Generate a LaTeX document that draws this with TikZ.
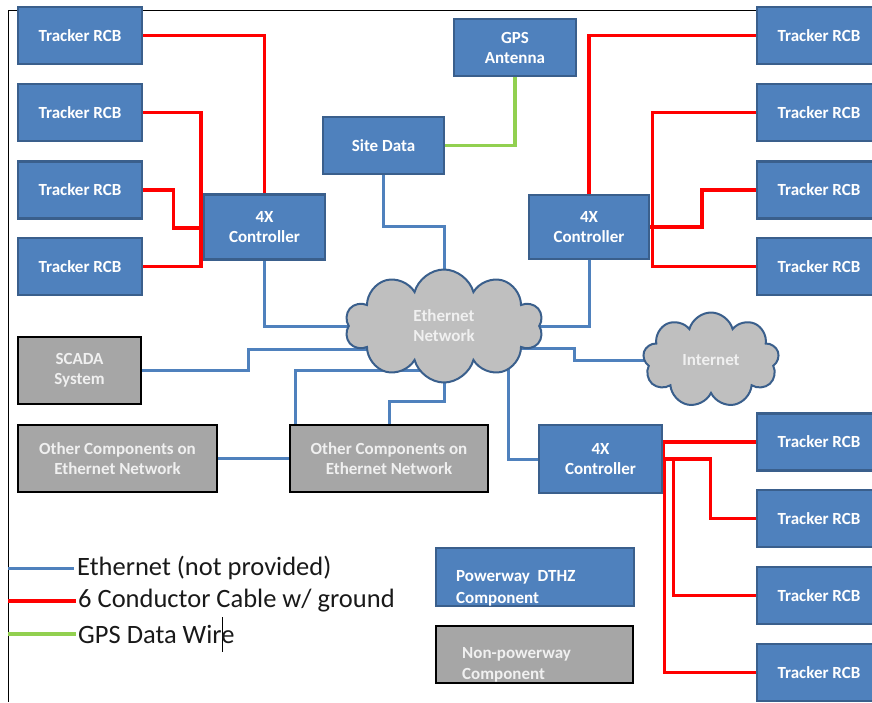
\documentclass[tikz,border=0pt]{standalone}
\usepackage{fontspec}
\setmainfont{Carlito}
\usepackage{tikz}
\usetikzlibrary{
	positioning, calc, shapes.symbols, backgrounds
}
\definecolor{pwblue}{RGB}{79,129,189}
\definecolor{pwedge}{RGB}{58,95,140}
\definecolor{npgray}{RGB}{166,166,166}
\definecolor{cloudgray}{RGB}{191,191,191}
\definecolor{gpsgreen}{RGB}{146,208,80}
\tikzstyle{rcb} = [rectangle, draw=pwedge, fill=pwblue, line width=2.5pt, text=white, font=\fontsize{17}{20}\selectfont\bfseries, minimum width=124pt, minimum height=57pt, inner sep=0pt, align=center]
\tikzstyle{ctrl} = [rcb, minimum width=121pt, minimum height=65pt]
\tikzstyle{other} = [rectangle, draw=black, fill=npgray, line width=2.5pt, text=white!94!black, font=\fontsize{17}{20}\selectfont\bfseries, minimum height=67pt, inner sep=0pt, align=center]
\tikzstyle{net} = [cloud, cloud puffs=10, cloud ignores aspect, draw=pwedge, fill=cloudgray, line width=2pt, text=white!94!black, font=\fontsize{17}{20}\selectfont\bfseries, align=center]
\tikzstyle{legend} = [font=\fontsize{26.5}{30}\selectfont, text=black!90, inner sep=0pt]
\tikzstyle{cable} = [draw, red, line width=3.5pt]
\tikzstyle{ethline} = [draw, pwblue, line width=3pt]
\tikzstyle{gpsline} = [draw, gpsgreen, line width=3.5pt]

\begin{document}
\begin{tikzpicture}[x=1pt, y=-1pt]
    \useasboundingbox (0,0) rectangle (872,702);
    %%% Trackers, left:
    \node[rcb] (tl1) at (80,35.5) {Tracker RCB};
    \node[rcb] (tl2) at (80,112.5) {Tracker RCB};
    \node[rcb] (tl3) at (80,190) {Tracker RCB};
    \node[rcb] (tl4) at (80,266.5) {Tracker RCB};
    \node[ctrl] (c1) at (264.5,227) {4X\\Controller};
    %%% Trackers, right:
    \begin{scope}[xshift = 739pt]
      \node[rcb] (tr1) at (80,35.5) {Tracker RCB};
      \node[rcb] (tr2) at (80,112.5) {Tracker RCB};
      \node[rcb] (tr3) at (80,190) {Tracker RCB};
      \node[rcb] (tr4) at (80,266.5) {Tracker RCB};
      \node[rcb] (tb1) at (80,442) {Tracker RCB};
      \node[rcb] (tb2) at (80,518.5) {Tracker RCB};
      \node[rcb] (tb3) at (80,595.5) {Tracker RCB};
      \node[rcb] (tb4) at (80,672.5) {Tracker RCB};
    \end{scope}
    \node[ctrl, minimum width=120pt, minimum height=64pt] (c2) at (589,227) {4X\\Controller};
    \node[ctrl, minimum width=123pt, minimum height=68pt] (c3) at (600.5,459) {4X\\Controller};
    %%% Site data and GPS:
    \node[rcb, minimum width=121pt] (site) at (383.5,145.5) {Site Data};
    \node[rcb, minimum width=122pt] (gps) at (515,47.5) {GPS\\Antenna};
    %%% Network:
    \node[net, minimum width=198pt, minimum height=113pt] (eth) at (444,326) {Ethernet\\Network};
    \node[net, cloud puffs=9, minimum width=136pt, minimum height=95pt] (inet) at (711,360) {Internet};
    \node[other, minimum width=123pt] (scada) at (79.5,370.5) {SCADA\\System};
    \node[other, minimum width=199pt] (oc1) at (117.5,458.5) {Other Components on\\Ethernet Network};
    \node[other, minimum width=198pt] (oc2) at (389,458.5) {Other Components on\\Ethernet Network};
    %%% Legend:
    \coordinate (ls1) at (8,568); \coordinate (le1) at (74,568);
    \coordinate (ls2) at (8,601); \coordinate (le2) at (76,601);
    \coordinate (ls3) at (8,634); \coordinate (le3) at (76,634);
    \node[legend, right=3pt of le1] (leg1) {Ethernet (not provided)};
    \node[legend, right=2pt of le2] (leg2) {6 Conductor Cable w/ ground};
    \node[legend, right=2pt of le3] (leg3) {GPS Data Wire};
    \node[rcb, minimum width=198pt, minimum height=58pt] (pw) at (535,577) {};
    \node[other, minimum width=197pt, minimum height=57pt] (npw) at (534.5,654.5) {};
    \node[anchor=west, align=left, inner sep=0pt, text=white, font=\fontsize{17}{22}\selectfont\bfseries] (pwtxt) at (456,588) {Powerway\ \ DTHZ\\Component};
    \node[anchor=west, align=left, inner sep=0pt, text=white!94!black, font=\fontsize{17}{21}\selectfont\bfseries] (npwtxt) at (462,665) {Non-powerway\\Component};
    \begin{scope}[on background layer]
      \draw[line width=1pt] (872,10) -- (8,10) -- (8,702);
      %%% Cables:
      \path [cable] (tl1.east) -| (c1.north);
      \path [cable] (tl2.east) -| ([xshift=-2pt]c1.west);
      \path [cable] (tl4.east) -| ([xshift=-2pt]c1.west);
      \path [cable] (tl3.east) -- ++(30,0) |- ([yshift=-1pt]c1.west);
      \path [cable] (tr1.west) -| (c2.north);
      \path [cable] (tr2.west) -| ([xshift=2pt]c2.east);
      \path [cable] (tr4.west) -| ([xshift=2pt]c2.east);
      \path [cable] (tr3.west) -- ++(-54,0) |- (c2.east);
      \path [cable] (tb1.west) -| (c3.east);
      \path [cable] (c3.east) -- ++(47,0) |- (tb2.west);
      \path [cable] ([xshift=10pt]c3.east) |- (tb3.west);
      \path [cable] ([xshift=1pt]c3.east) |- (tb4.west);
      %%% Ethernet:
      \path [ethline] (c1.south) |- (eth.center);
      \path [ethline] (c2.south) |- (eth.center);
      \path [ethline] (site.south) -- ++(0,51) -| (eth.center);
      \path [ethline] (scada.east) -- ++(106,0) |- ($(eth.center)+(0,23)$);
      \path [ethline] ([xshift=7pt]oc2.north west) |- ($(eth.center)+(0,44)$);
      \path [ethline] (oc2.north) -- ++(0,-22) -| (eth.center);
      \path [ethline] (oc1.east) -- (oc2.west);
      \path [ethline] (c3.west) -| ($(eth.center)+(64,0)$);
      \path [ethline] ($(eth.center)+(0,22)$) -- ++(130,0) |- (inet.center);
      \path [gpsline] (gps.south) |- (site.east);
      %%% Legend lines:
      \path [ethline] (ls1) -- (le1);
      \path [cable] (ls2) -- (le2);
      \path [gpsline] (ls3) -- (le3);
      \draw[line width=0.8pt] (222,617) -- (222,652);
    \end{scope}
\end{tikzpicture}
\end{document}
